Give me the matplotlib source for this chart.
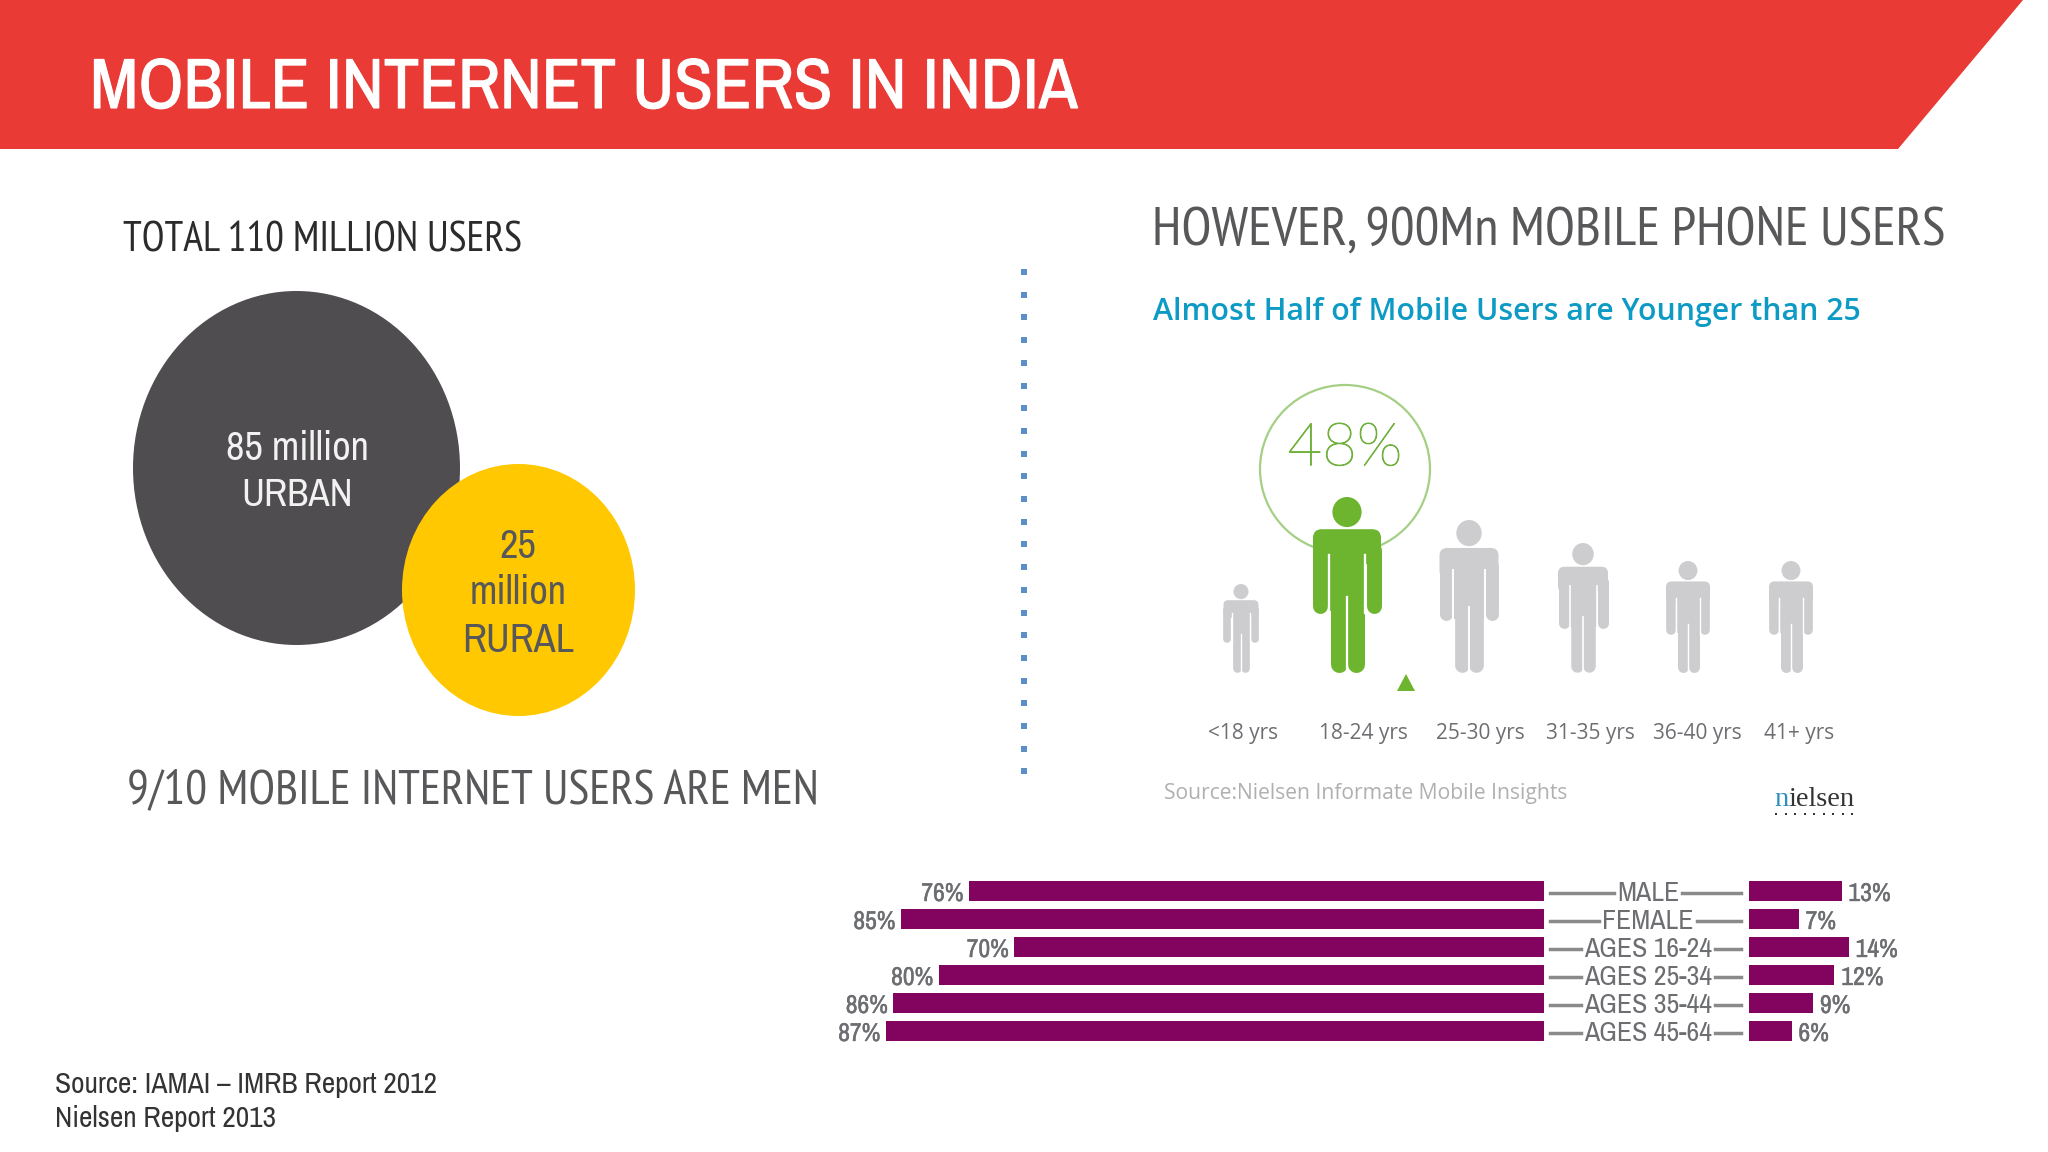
import matplotlib
matplotlib.use("Agg")
import matplotlib.pyplot as plt
import matplotlib.patheffects as pe
from matplotlib.patches import Ellipse, FancyBboxPatch, Polygon, Rectangle

W, H = 2048, 1152
NARROW = ["Archivo Narrow", "Roboto Condensed", "Roboto", "DejaVu Sans"]
NARROWER = ["PT Sans Narrow", "Archivo Narrow", "Roboto Condensed", "DejaVu Sans"]
ROUND = ["Open Sans", "DejaVu Sans"]

RED = "#e93a35"
PURPLE = "#82045f"
GREEN = "#6eb52f"
GRAY_FIG = "#cdcdcf"
TEXT_GRAY = "#58585a"

# bar chart values
bar_categories = ["MALE", "FEMALE", "AGES 16-24", "AGES 25-34", "AGES 35-44", "AGES 45-64"]
left_values = [76, 85, 70, 80, 86, 87]
right_values = [13, 7, 14, 12, 9, 6]

# age figures
age_labels = ["<18 yrs", "18-24 yrs", "25-30 yrs", "31-35 yrs", "36-40 yrs", "41+ yrs"]
age_label_x = [1243, 1363, 1480, 1590, 1697, 1799]
fig_x = [1241, 1347, 1469, 1583, 1688, 1791]
fig_top = [584, 497, 520, 543, 561, 561]
fig_width = [35, 68, 59, 50, 44, 44]
FIG_BOTTOM = 672


def px(v):
    # pixels to points at dpi 100
    return v * 0.72


def draw_person(ax, cx, top, bottom, w, color):
    h = bottom - top
    ax.add_patch(Ellipse((cx, top + 0.086 * h), 0.43 * w, 0.172 * h, color=color, lw=0))
    ax.add_patch(FancyBboxPatch((cx - w / 2, top + 0.184 * h), w, 0.2 * h,
                                boxstyle="round,pad=0,rounding_size=%f" % (0.13 * w),
                                fc=color, ec="none"))
    # arms
    for s in (-1, 1):
        ax.plot([cx + s * 0.39 * w] * 2, [top + 0.3 * h, top + 0.62 * h], color=color,
                lw=px(0.22 * w), solid_capstyle="round")
    ax.add_patch(Rectangle((cx - 0.27 * w, top + 0.25 * h), 0.54 * w, 0.4 * h, color=color, lw=0))
    # legs
    for s in (-1, 1):
        ax.plot([cx + s * 0.125 * w] * 2, [top + 0.6 * h, bottom - 0.12 * w], color=color,
                lw=px(0.25 * w), solid_capstyle="round")
    # white slits between arms/torso and legs
    slit = max(1.0, 0.024 * w)
    for s in (-1, 1):
        ax.plot([cx + s * 0.27 * w] * 2, [top + 0.33 * h, top + 0.66 * h], color="white", lw=slit)
    ax.plot([cx, cx], [top + 0.57 * h, bottom], color="white", lw=slit)


fig = plt.figure(figsize=(W / 100, H / 100), dpi=100, facecolor="white")
page = fig.add_axes([0, 0, 1, 1])
page.set_xlim(0, W)
page.set_ylim(H, 0)
page.axis("off")

# header
page.add_patch(Polygon([(0, 0), (2023, 0), (1898, 149), (0, 149)], color=RED, lw=0))
title = page.text(90, 108, "MOBILE INTERNET USERS IN INDIA", color="white", fontsize=51,
                  family=NARROW, va="baseline")
title.set_path_effects([pe.withStroke(linewidth=0.8, foreground="white")])

# left column
page.text(123, 241, "TOTAL 110 MILLION USERS", color="#2b2b2b", fontsize=30, family=NARROWER, va="center")
page.add_patch(Ellipse((296.5, 468), 327, 354, color="#4f4d4f", lw=0))
page.add_patch(Ellipse((518.5, 590), 233, 252, color="#ffc800", lw=0))
page.text(297, 448, "85 million", color="#f2f2f2", fontsize=29, family=NARROW, ha="center", va="center")
page.text(297, 495, "URBAN", color="#f2f2f2", fontsize=28, family=NARROW, ha="center", va="center")
for y, s in zip([546, 592, 640], ["25", "million", "RURAL"]):
    page.text(518, y, s, color=TEXT_GRAY, fontsize=29, family=NARROW, ha="center", va="center")
page.text(127, 791, "9/10 MOBILE INTERNET USERS ARE MEN", color=TEXT_GRAY, fontsize=35,
          family=NARROWER, va="center")
page.text(55, 1085, "Source: IAMAI \u2013 IMRB Report 2012", color="#333333", fontsize=21.2, family=NARROW, va="center")
page.text(55, 1119, "Nielsen Report 2013", color="#333333", fontsize=21.2, family=NARROW, va="center")

# dotted divider
dots_y = [272 + 22.7 * i for i in range(23)]
page.plot([1024] * len(dots_y), dots_y, ls="none", marker="s", ms=px(6), color="#5b8fc9", mew=0)

# right column
page.text(1152, 231, "HOWEVER, 900Mn MOBILE PHONE USERS", color=TEXT_GRAY, fontsize=39.4, family=NARROWER, va="center")
page.text(1153, 312, "Almost Half of Mobile Users are Younger than 25", color="#0d9ac4", fontsize=21.8,
          family=ROUND, weight="semibold", va="center")

page.add_patch(Ellipse((1345, 469), 170, 168, fc="none", ec="#a4cf84", lw=1.6))
for i in range(len(fig_x)):
    color = GREEN if i == 1 else GRAY_FIG
    draw_person(page, fig_x[i], fig_top[i], FIG_BOTTOM, fig_width[i], color)
    page.text(age_label_x[i], 733, age_labels[i], color="#6d6e71", fontsize=15, family=ROUND,
              ha="center", va="center")
pct = page.text(1345, 449, "48%", color="#6fb13c", fontsize=43, family=["Lato", "Open Sans"], weight="light",
                ha="center", va="center")
pct.set_path_effects([pe.withStroke(linewidth=0.7, foreground="#6fb13c")])
page.add_patch(Polygon([(1397, 691), (1406, 674), (1415, 691)], color=GREEN, lw=0))

page.text(1164, 794, "Source:Nielsen Informate Mobile Insights", color="#b0b0b2", fontsize=15.2, family=ROUND,
          va="center")
page.text(1774, 800, "n", color="#2a8fc0", fontsize=20.5, family="Liberation Serif", va="center")
page.text(1788, 800, "ielsen", color="#333333", fontsize=20.5, family="Liberation Serif", va="center")
logo_dots = [1776 + 9.5 * i for i in range(9)]
page.plot(logo_dots, [814] * 9, ls="none", marker="s", ms=px(2.5), color="#333333", mew=0)

# bars: left side grows leftwards from the labels, right side grows rightwards
LEFT_PX_PER_UNIT = 7.56
RIGHT_PX_PER_UNIT = 7.15
y_top = 876.7
y_bot = 1044.7
left_span = 100 * LEFT_PX_PER_UNIT
right_span = 20 * RIGHT_PX_PER_UNIT

ax_l = fig.add_axes([(1543.6 - left_span) / W, 1 - y_bot / H, left_span / W, (y_bot - y_top) / H])
ax_r = fig.add_axes([1748.6 / W, 1 - y_bot / H, right_span / W, (y_bot - y_top) / H])
ax_l.set_xlim(100, 0)
ax_r.set_xlim(0, 20)
for ax in (ax_l, ax_r):
    ax.set_ylim(5.5, -0.5)
    ax.axis("off")
    ax.patch.set_alpha(0)

ypos = list(range(len(bar_categories)))
ax_l.barh(ypos, left_values, height=0.72, color=PURPLE)
ax_r.barh(ypos, right_values, height=0.72, color=PURPLE)
for y, lv, rv in zip(ypos, left_values, right_values):
    t = ax_l.annotate("%d%%" % lv, (lv, y), xytext=(-4, -2), textcoords="offset points", ha="right", va="center",
                      color="#6d6e71", fontsize=18.5, family=NARROW)
    t.set_path_effects([pe.withStroke(linewidth=0.3, foreground="#6d6e71")])
    t = ax_r.annotate("%d%%" % rv, (rv, y), xytext=(5, -2), textcoords="offset points", ha="left", va="center",
                      color="#6d6e71", fontsize=18.5, family=NARROW)
    t.set_path_effects([pe.withStroke(linewidth=0.3, foreground="#6d6e71")])

# middle labels with connector lines either side
fig.canvas.draw()
renderer = fig.canvas.get_renderer()
for i, cat in enumerate(bar_categories):
    y = y_top + (i + 0.5) * (y_bot - y_top) / len(bar_categories)
    t = page.text(1648, y + 3, cat, color="#6d6e71", fontsize=20, family=NARROW, ha="center", va="center")
    ext = t.get_window_extent(renderer)
    page.plot([1550, ext.x0 - 3], [y + 2, y + 2], color="#8a8a8a", lw=2.5)
    page.plot([ext.x1 + 3, 1741], [y + 2, y + 2], color="#8a8a8a", lw=2.5)

fig.savefig("out.png", dpi=100, facecolor="white")
